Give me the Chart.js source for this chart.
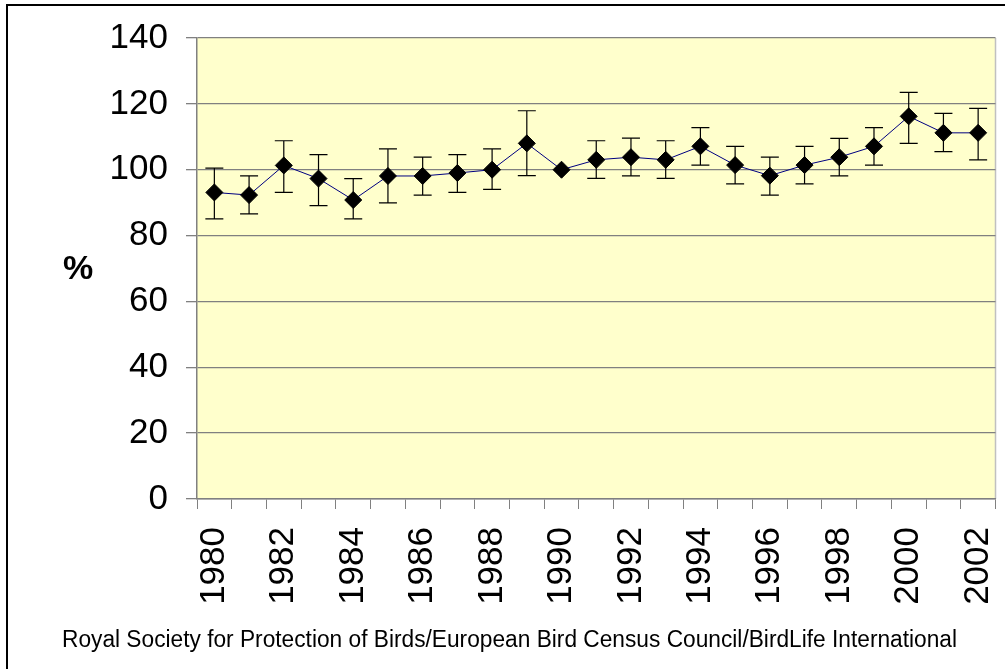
<!DOCTYPE html>
<html>
<head>
<meta charset="utf-8">
<script src="https://cdn.jsdelivr.net/npm/chart.js@4/dist/chart.umd.min.js"></script>
<style>
  html, body { margin: 0; padding: 0; background: #fff; overflow: hidden; }
</style>
</head>
<body>
<canvas id="chart" width="1005" height="669"></canvas>
<script>
// años y valores del índice (1990 = 100)
const years = [1980, 1981, 1982, 1983, 1984, 1985, 1986, 1987, 1988, 1989, 1990, 1991,
               1992, 1993, 1994, 1995, 1996, 1997, 1998, 1999, 2000, 2001, 2002];
const indexValues = [93.1, 92.3, 101.3, 97.3, 90.8, 98.1, 98.1, 99.0, 100.0, 108.0, 100.0, 103.0,
                     103.8, 103.0, 107.1, 101.4, 98.2, 101.4, 103.8, 107.1, 116.2, 111.2, 111.2];
const errLow  = [85.1, 86.6, 93.1, 89.1, 85.1, 89.9, 92.3, 93.1, 94.0, 98.2, null, 97.4,
                 98.1, 97.4, 101.4, 95.7, 92.3, 95.7, 98.1, 101.4, 108.0, 105.5, 103.0];
const errHigh = [100.5, 98.1, 108.8, 104.6, 97.3, 106.3, 103.8, 104.6, 106.3, 117.9, null, 108.8,
                 109.6, 108.8, 112.8, 107.1, 103.8, 107.1, 109.5, 112.8, 123.5, 117.1, 118.6];
const yTicks = [0, 20, 40, 60, 80, 100, 120, 140];
const yTitle = "%";
const sourceText = "Royal Society for Protection of Birds/European Bird Census Council/BirdLife International";

const FONT = '"Liberation Sans", Arial, sans-serif';

// fondo amarillo, marco, barras de error y textos sueltos
const extras = {
  id: "extras",
  beforeDraw(chart) {
    const { ctx, chartArea: a } = chart;
    ctx.save();
    ctx.fillStyle = "#FFFFCC";
    ctx.fillRect(a.left, a.top, a.right - a.left, a.bottom - a.top);
    ctx.strokeStyle = "#c0c0c0";
    ctx.lineWidth = 1.5;
    ctx.beginPath();
    ctx.moveTo(a.right, a.top);
    ctx.lineTo(a.right, a.bottom);
    ctx.stroke();
    // marco exterior
    ctx.strokeStyle = "#000";
    ctx.lineWidth = 2;
    ctx.strokeRect(7, 5, 1200, 1000);
    ctx.restore();
  },
  beforeDatasetsDraw(chart) {
    const { ctx } = chart;
    const x = chart.scales.x, y = chart.scales.y;
    ctx.save();
    ctx.strokeStyle = "#000";
    ctx.lineWidth = 1.2;
    years.forEach((yr, i) => {
      if (errLow[i] == null) return;
      const px = x.getPixelForValue(i);
      const lo = y.getPixelForValue(errLow[i]);
      const hi = y.getPixelForValue(errHigh[i]);
      ctx.beginPath();
      ctx.moveTo(px, lo); ctx.lineTo(px, hi);
      ctx.moveTo(px - 9, lo); ctx.lineTo(px + 9, lo);
      ctx.moveTo(px - 9, hi); ctx.lineTo(px + 9, hi);
      ctx.stroke();
    });
    ctx.restore();
  },
  afterDraw(chart) {
    const { ctx } = chart;
    ctx.save();
    ctx.fillStyle = "#000";
    ctx.font = `bold 34px ${FONT}`;
    ctx.textAlign = "center";
    ctx.textBaseline = "middle";
    ctx.fillText(yTitle, 78, 270);
    // fuente de datos, algo comprimida como en el original
    ctx.font = `23px ${FONT}`;
    ctx.textAlign = "left";
    ctx.textBaseline = "alphabetic";
    const w = ctx.measureText(sourceText).width;
    ctx.translate(62, 647);
    ctx.scale(895 / w, 1);
    ctx.fillText(sourceText, 0, 0);
    ctx.restore();
  }
};

new Chart(document.getElementById("chart"), {
  type: "line",
  data: {
    labels: years.map(String),
    datasets: [{
      data: indexValues,
      borderColor: "#000080",
      borderWidth: 1,
      tension: 0,
      pointStyle: "rectRot",
      pointRadius: 8.5,
      pointBackgroundColor: "#000",
      pointBorderColor: "#000",
      pointBorderWidth: 1
    }]
  },
  options: {
    responsive: false,
    animation: false,
    devicePixelRatio: 1,
    layout: { padding: { top: 38, right: 6, left: 0, bottom: 0 } },
    plugins: { legend: { display: false }, tooltip: { enabled: false } },
    scales: {
      x: {
        offset: true,
        grid: { offset: true, drawOnChartArea: false, color: "#808080", tickLength: 10, lineWidth: 1 },
        border: { color: "#808080", width: 1.5 },
        ticks: {
          autoSkip: false, minRotation: 90, maxRotation: 90, padding: 18, color: "#000",
          font: { family: FONT, size: 35 },
          callback: (v, i) => (i % 2 === 0 ? String(years[i]) : "")
        },
        afterFit: s => { s.height = 170; s.paddingLeft = 0; s.paddingRight = 0; }
      },
      y: {
        min: 0, max: 140,
        afterBuildTicks: s => { s.ticks = yTicks.map(v => ({ value: v })); },
        grid: { color: "#808080", tickLength: 11, lineWidth: 1.3 },
        border: { color: "#808080", width: 1.5 },
        ticks: { padding: 18, color: "#000", font: { family: FONT, size: 35 } },
        afterFit: s => { s.width = 197; s.paddingTop = 0; s.paddingBottom = 0; }
      }
    }
  },
  plugins: [extras]
});
</script>
</body>
</html>
